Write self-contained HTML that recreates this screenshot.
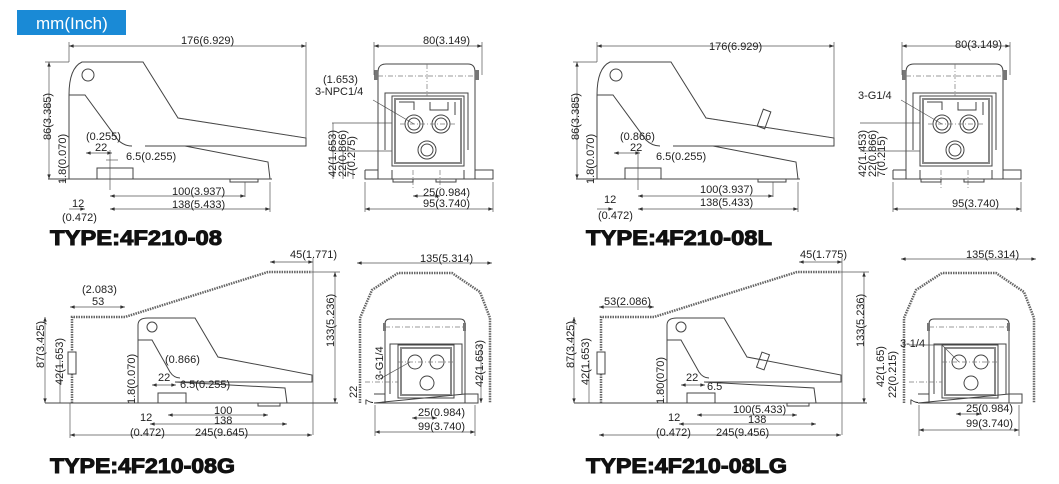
<!DOCTYPE html>
<html><head><meta charset="utf-8"><style>
html,body{margin:0;padding:0;background:#fff;}
svg{display:block}
text{font-family:"Liberation Sans",Arial,sans-serif;font-size:11px;fill:#222}
.t{font-family:"Liberation Sans",Arial,sans-serif;font-weight:900;font-size:21px;fill:#111;stroke:#111;stroke-width:1}
.l{stroke:#444;stroke-width:1;fill:none}
.d{stroke:#555;stroke-width:0.7;fill:none}
.h{stroke:#666;stroke-width:2.5;fill:none;stroke-dasharray:1.5 1}
.c{stroke:#777;stroke-width:0.7;fill:none;stroke-dasharray:5 2 1 2}
</style></head><body>
<svg width="1059" height="484" viewBox="0 0 1059 484" xmlns="http://www.w3.org/2000/svg">
<defs>
<marker id="a" viewBox="0 0 8 6" refX="8" refY="3" markerWidth="7" markerHeight="5" orient="auto-start-reverse"><path d="M0,0 L8,3 L0,6z" fill="#333"/></marker>
<g id="ped">
<path class="l" d="M69,179 V95 Q69,68 82,62 H143 L178,118 L306,138 V146 H145 L185,146 L268,162 L270,179"/>
<path class="l" d="M69,95 H85 L118,140 Q124,146 132,146"/>
<path class="l" d="M48,179 H272"/>
<rect class="l" x="97" y="168" width="36" height="11"/>
<rect class="l" x="230" y="179" width="28" height="3"/>
<circle class="l" cx="88" cy="75" r="6"/>
<path class="d" d="M178,118 L306,138" stroke-dasharray="1 2" stroke-width="2"/>
</g>
<g id="front">
<path class="l" d="M378,179 V72 Q378,64 386,64 H468 Q475,64 475,72 V179"/>
<path class="l" d="M385,150 V93 H468 V150"/>
<rect class="l" x="392" y="96" width="72" height="70"/>
<rect x="395" y="99" width="66" height="64" fill="none" stroke="#888" stroke-width="2"/>
<circle class="l" cx="414" cy="124" r="9"/><circle class="l" cx="414" cy="124" r="6"/>
<circle class="l" cx="441" cy="124" r="9"/><circle class="l" cx="441" cy="124" r="6"/>
<circle class="l" cx="427" cy="150" r="9"/><circle class="l" cx="427" cy="150" r="6"/>
<path class="l" d="M399,102 H414 V110 M430,102 V110 H448 V102 M455,102 V115"/>
<path class="l" d="M365,170 H378 M475,170 H493 V179 H365 V170 M392,170 V179 M464,170 V179"/>
<rect x="374" y="70" width="4" height="10" fill="#777"/><rect x="475" y="70" width="4" height="10" fill="#777"/>
<path class="c" d="M378,76 H478 M427,64 V96 M400,124 H455 M413,170 V188 M440,170 V188"/>
<rect class="l" x="393" y="179" width="20" height="3"/><rect class="l" x="436" y="179" width="20" height="3"/>
</g>
<g id="gped">
<path class="h" d="M72,403 V317 H125 L268,272 H312"/>
<rect x="68" y="352" width="8" height="22" fill="#fff" stroke="#444"/>
<path class="l" d="M138,403 V325 Q138,318 148,318 H195 L218,357 L312,375 V382 H175 L285,388 L287,403"/>
<path class="l" d="M138,340 H152 L170,372 Q174,378 180,378"/>
<path class="l" d="M45,403 H338"/>
<rect class="l" x="158" y="393" width="28" height="10"/>
<rect class="l" x="258" y="403" width="22" height="3"/>
<circle class="l" cx="152" cy="327" r="5"/>
</g>
<g id="gfront">
<path class="h" d="M360,403 V318 L372,290 L398,273 H452 L480,292 L490,318 V403"/>
<path class="l" d="M385,403 V324 Q385,319 390,319 H460 Q465,319 465,324 V403"/>
<path class="l" d="M390,394 V344 H462 V394"/>
<rect class="l" x="398" y="345" width="56" height="53"/>
<rect x="401" y="348" width="50" height="47" fill="none" stroke="#888" stroke-width="2"/>
<circle class="l" cx="415" cy="362" r="7"/><circle class="l" cx="437" cy="362" r="7"/><circle class="l" cx="427" cy="383" r="7"/>
<path class="l" d="M374,394 H385 M465,394 H478 V403 H374 Z"/>
<path class="c" d="M385,327 H465 M398,362 H455 M365,382 H398"/>
<rect x="383" y="323" width="3" height="8" fill="#777"/><rect x="463" y="323" width="3" height="8" fill="#777"/>
</g>
</defs>

<rect x="17" y="10" width="109" height="25" fill="#1a8ad6"/>
<text x="36" y="29" style="font-size:17px;fill:#fff">mm(Inch)</text>

<!-- TOP LEFT -->
<use href="#ped"/><use href="#front"/>
<g class="d">
<path d="M69,42 V62 M306,42 V138" /><path d="M69,46 H306" marker-start="url(#a)" marker-end="url(#a)"/>
<path d="M49,62 V179" marker-start="url(#a)" marker-end="url(#a)"/><path d="M45,62 H69"/>
<path d="M86,153 H112" marker-start="url(#a)" marker-end="url(#a)"/>
<path d="M106,160 H118" /><path d="M110,150 V190 M245,182 V197 M270,182 V212"/>
<path d="M110,196 H245" marker-start="url(#a)" marker-end="url(#a)"/>
<path d="M110,209 H270" marker-start="url(#a)" marker-end="url(#a)"/>
<path d="M69,209 H85" marker-end="url(#a)"/>
<path d="M63,183 V179" /><path d="M374,42 V75 M482,42 V75"/><path d="M374,46 H482" marker-start="url(#a)" marker-end="url(#a)"/>
<path d="M365,209 H493" marker-start="url(#a)" marker-end="url(#a)"/><path d="M365,182 V212 M493,182 V212"/>
<path d="M413,196 H440" marker-start="url(#a)" marker-end="url(#a)"/>
<path d="M332,123 H392 M332,151 H392 M373,100 L414,124"/>
<path d="M333,123 V179 M343,151 V179 M353,170 V179"/>
</g>
<text x="181" y="44">176(6.929)</text>
<text transform="translate(51,140) rotate(-90)">86(3.385)</text>
<text transform="translate(66,184) rotate(-90)">1.8(0.070)</text>
<text x="86" y="140">(0.255)</text><text x="95" y="151">22</text><text x="126" y="160">6.5(0.255)</text>
<text x="172" y="195">100(3.937)</text><text x="172" y="208">138(5.433)</text>
<text x="72" y="207">12</text><text x="62" y="221">(0.472)</text>
<text x="423" y="44">80(3.149)</text>
<text x="323" y="83">(1.653)</text><text x="315" y="95">3-NPC1/4</text>
<text transform="translate(336,177) rotate(-90)">42(1.653)</text>
<text transform="translate(346,177) rotate(-90)">22(0.866)</text>
<text transform="translate(355,177) rotate(-90)">7(0.275)</text>
<text x="423" y="196">25(0.984)</text><text x="423" y="207">95(3.740)</text>
<text class="t" x="50" y="245" textLength="172" lengthAdjust="spacingAndGlyphs">TYPE:4F210-08</text>

<!-- TOP RIGHT -->
<g transform="translate(528,0)"><use href="#ped"/><use href="#front"/>
<rect class="l" x="232" y="110" width="8" height="18" transform="rotate(20 236 119)"/>
<g class="d">
<path d="M69,42 V62 M306,42 V138" /><path d="M69,46 H306" marker-start="url(#a)" marker-end="url(#a)"/>
<path d="M49,62 V179" marker-start="url(#a)" marker-end="url(#a)"/><path d="M45,62 H69"/>
<path d="M86,153 H112" marker-start="url(#a)" marker-end="url(#a)"/>
<path d="M110,150 V190 M245,182 V197 M270,182 V212"/>
<path d="M110,196 H245" marker-start="url(#a)" marker-end="url(#a)"/>
<path d="M110,209 H270" marker-start="url(#a)" marker-end="url(#a)"/>
<path d="M69,209 H85" marker-end="url(#a)"/>
<path d="M374,42 V75 M482,42 V75"/><path d="M374,46 H482" marker-start="url(#a)" marker-end="url(#a)"/>
<path d="M365,209 H493" marker-start="url(#a)" marker-end="url(#a)"/><path d="M365,182 V212 M493,182 V212"/>
<path d="M332,123 H392 M332,151 H392 M373,100 L414,124"/>
</g></g>
<text x="709" y="50">176(6.929)</text>
<text transform="translate(579,140) rotate(-90)">86(3.385)</text>
<text transform="translate(594,184) rotate(-90)">1.8(0.070)</text>
<text x="620" y="140">(0.866)</text><text x="630" y="151">22</text><text x="656" y="160">6.5(0.255)</text>
<text x="700" y="193">100(3.937)</text><text x="700" y="206">138(5.433)</text>
<text x="604" y="203">12</text><text x="598" y="219">(0.472)</text>
<text x="955" y="48">80(3.149)</text>
<text x="858" y="99">3-G1/4</text>
<text transform="translate(866,177) rotate(-90)">42(1.453)</text>
<text transform="translate(876,177) rotate(-90)">22(0.866)</text>
<text transform="translate(885,177) rotate(-90)">7(0.215)</text>
<text x="952" y="207">95(3.740)</text>
<text class="t" x="586" y="245" textLength="186" lengthAdjust="spacingAndGlyphs">TYPE:4F210-08L</text>

<!-- BOTTOM LEFT -->
<use href="#gped"/><use href="#gfront"/>
<g class="d">
<path d="M270,262 H313" marker-start="url(#a)" marker-end="url(#a)"/><path d="M313,258 V435"/>
<path d="M335,272 V403" marker-start="url(#a)" marker-end="url(#a)"/><path d="M312,272 H340"/>
<path d="M70,307 H125" marker-start="url(#a)" marker-end="url(#a)"/>
<path d="M45,317 V403" marker-start="url(#a)" marker-end="url(#a)"/><path d="M60,360 V403"/>
<path d="M70,435 H312" marker-start="url(#a)" marker-end="url(#a)"/><path d="M70,403 V438"/>
<path d="M168,415 H268" marker-start="url(#a)" marker-end="url(#a)"/>
<path d="M150,424 H287" marker-start="url(#a)" marker-end="url(#a)"/>
<path d="M152,385 H176" marker-start="url(#a)" marker-end="url(#a)"/>
<path d="M357,263 H492" marker-start="url(#a)" marker-end="url(#a)"/>
<path d="M375,432 H475" marker-start="url(#a)" marker-end="url(#a)"/><path d="M375,405 V436 M475,405 V436"/>
<path d="M412,418 H437" marker-start="url(#a)" marker-end="url(#a)"/>
<path d="M481,345 V403" marker-end="url(#a)"/><path d="M378,380 L410,362"/>
</g>
<text x="290" y="258">45(1.771)</text>
<text x="82" y="293">(2.083)</text><text x="92" y="305">53</text>
<text transform="translate(44,368) rotate(-90)">87(3.425)</text>
<text transform="translate(63,385) rotate(-90)">42(1.653)</text>
<text transform="translate(334,347) rotate(-90)">133(5.236)</text>
<text transform="translate(135,404) rotate(-90)">1.8(0.070)</text>
<text x="165" y="363">(0.866)</text><text x="158" y="381">22</text><text x="180" y="388">6.5(0.255)</text>
<text x="214" y="414">100</text><text x="214" y="424">138</text>
<text x="140" y="421">12</text><text x="130" y="436">(0.472)</text><text x="195" y="436">245(9.645)</text>
<text x="420" y="262">135(5.314)</text>
<text transform="translate(383,380) rotate(-90)">3-G1/4</text>
<text transform="translate(483,387) rotate(-90)">42(1.653)</text>
<text transform="translate(357,398) rotate(-90)">22</text>
<text transform="translate(373,405) rotate(-90)">7</text>
<text x="418" y="416">25(0.984)</text><text x="418" y="430">99(3.740)</text>
<text class="t" x="50" y="473" textLength="185" lengthAdjust="spacingAndGlyphs">TYPE:4F210-08G</text>

<!-- BOTTOM RIGHT -->
<g transform="translate(529,0)"><use href="#gped"/>
<rect class="l" x="230" y="353" width="8" height="16" transform="rotate(20 234 361)"/>
<g class="d">
<path d="M270,262 H313" marker-start="url(#a)" marker-end="url(#a)"/><path d="M313,258 V435"/>
<path d="M335,272 V403" marker-start="url(#a)" marker-end="url(#a)"/><path d="M312,272 H340"/>
<path d="M70,307 H125" marker-start="url(#a)" marker-end="url(#a)"/>
<path d="M45,317 V403" marker-start="url(#a)" marker-end="url(#a)"/><path d="M60,360 V403"/>
<path d="M70,435 H312" marker-start="url(#a)" marker-end="url(#a)"/>
<path d="M168,415 H268" marker-start="url(#a)" marker-end="url(#a)"/>
<path d="M150,424 H287" marker-start="url(#a)" marker-end="url(#a)"/>
<path d="M152,385 H176" marker-start="url(#a)" marker-end="url(#a)"/>
</g></g>
<g transform="translate(544,0)"><use href="#gfront"/>
<g class="d">
<path d="M357,259 H492" marker-start="url(#a)" marker-end="url(#a)"/>
<path d="M375,430 H475" marker-start="url(#a)" marker-end="url(#a)"/><path d="M375,405 V436 M475,405 V436"/>
<path d="M412,414 H437" marker-start="url(#a)" marker-end="url(#a)"/>
<path d="M365,345 H398 L415,362"/>
</g></g>
<text x="800" y="258">45(1.775)</text>
<text x="604" y="305">53(2.086)</text>
<text transform="translate(574,368) rotate(-90)">87(3.425)</text>
<text transform="translate(589,385) rotate(-90)">42(1.653)</text>
<text transform="translate(864,347) rotate(-90)">133(5.236)</text>
<text transform="translate(664,404) rotate(-90)">1.80(070)</text>
<text x="686" y="381">22</text><text x="707" y="390">6.5</text>
<text x="733" y="413">100(5.433)</text><text x="748" y="423">138</text>
<text x="668" y="421">12</text><text x="656" y="436">(0.472)</text><text x="716" y="436">245(9.456)</text>
<text x="966" y="258">135(5.314)</text>
<text x="900" y="347">3-1/4</text>
<text transform="translate(884,387) rotate(-90)">42(1.65)</text>
<text transform="translate(896,398) rotate(-90)">22(0.215)</text>
<text transform="translate(918,405) rotate(-90)">7</text>
<text x="966" y="412">25(0.984)</text><text x="966" y="427">99(3.740)</text>
<text class="t" x="586" y="473" textLength="201" lengthAdjust="spacingAndGlyphs">TYPE:4F210-08LG</text>
</svg>
</body></html>
